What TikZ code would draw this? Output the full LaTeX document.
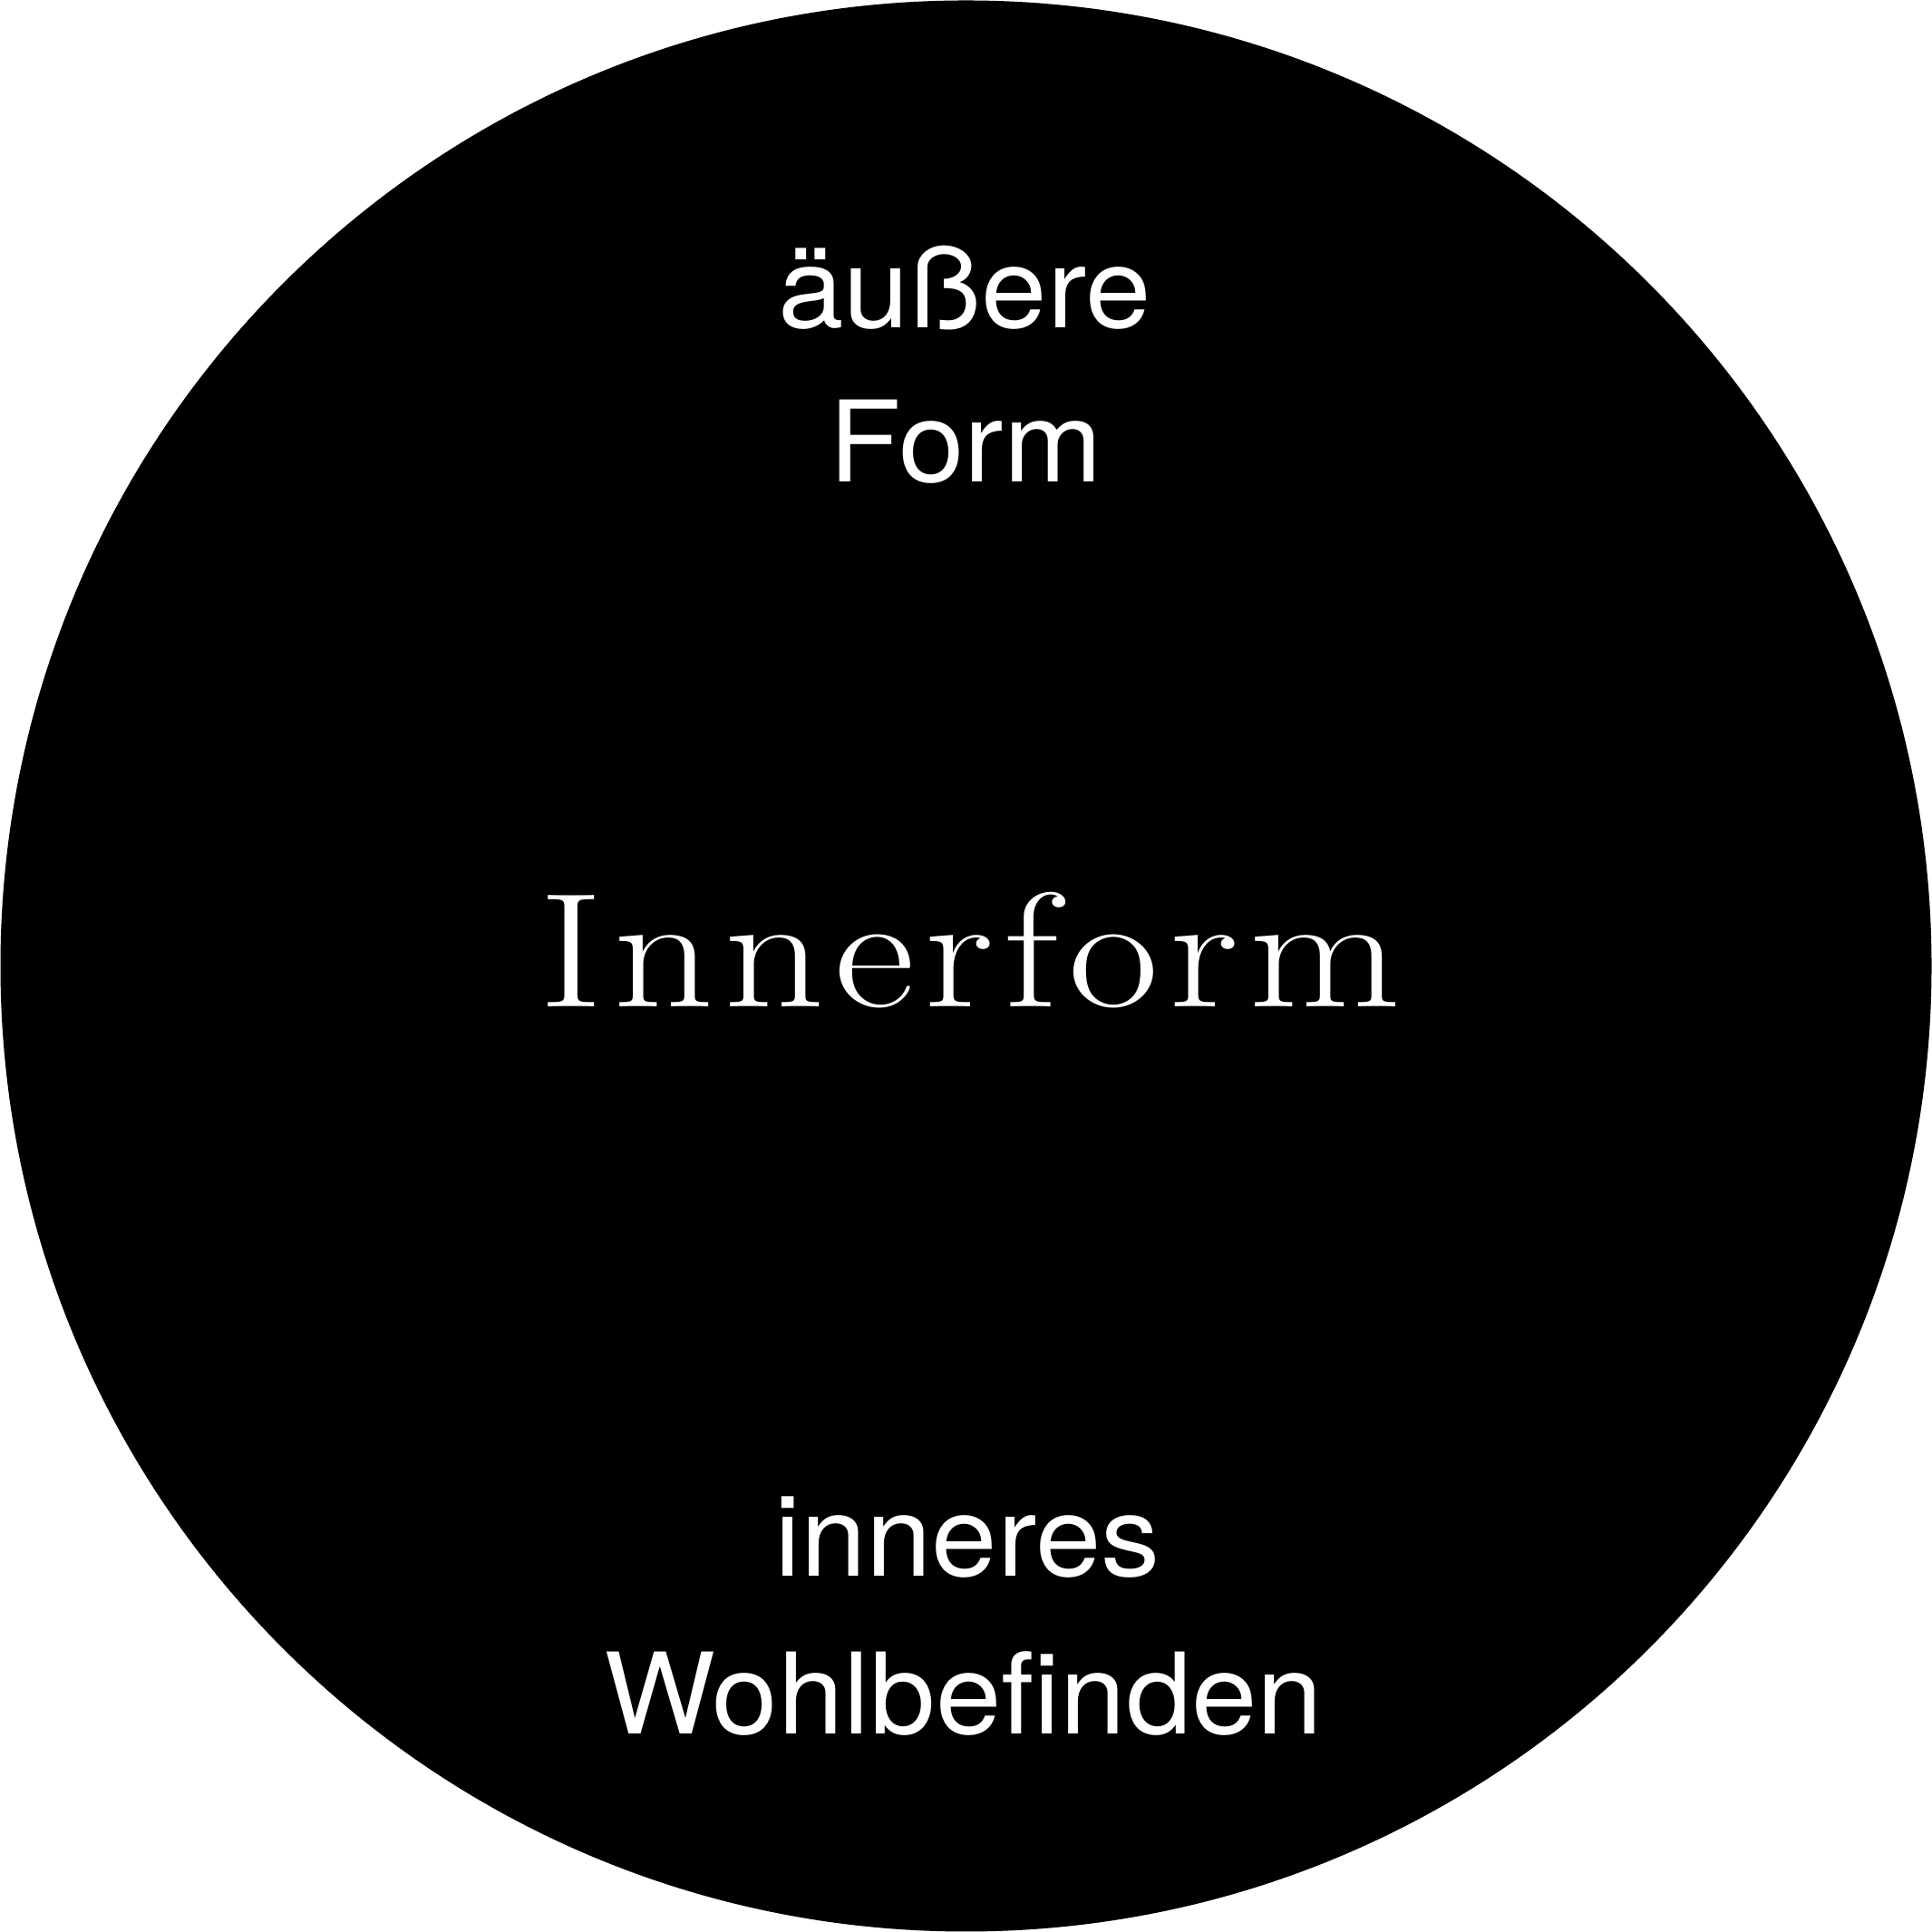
\documentclass[tikz,border=0pt]{standalone}
\usepackage{fontspec}
\setmainfont[FakeStretch=1.05]{TeX Gyre Heros}
\newfontfamily\innerfont[FakeStretch=1.21, LetterSpace=6]{Latin Modern Roman}
\begin{document}
\begin{tikzpicture}
	\tikzset{lbl/.style={text=white, anchor=base, inner sep=0pt, font=\fontsize{35.3}{49}\selectfont}};
	\tikzset{big/.style={text=white, anchor=base, inner sep=0pt, font=\innerfont\fontsize{51.2}{60}\selectfont}};

	\useasboundingbox (0, 0) rectangle (21.31, 21.31);
	\fill[black] (10.655, 10.655) circle (10.65);

	\node[lbl] (aeussere) at (10.64, 17.69) {äußere};
	\node[lbl] (form) at (10.65, 15.99) {Form};

	\node[big] (innerform) at (10.70, 10.20) {Innerform};

	\node[lbl] (inneres) at (10.67, 3.92) {inneres};
	\node[lbl] (wohl) at (10.63, 2.18) {Wohlbefinden};
\end{tikzpicture}
\end{document}
